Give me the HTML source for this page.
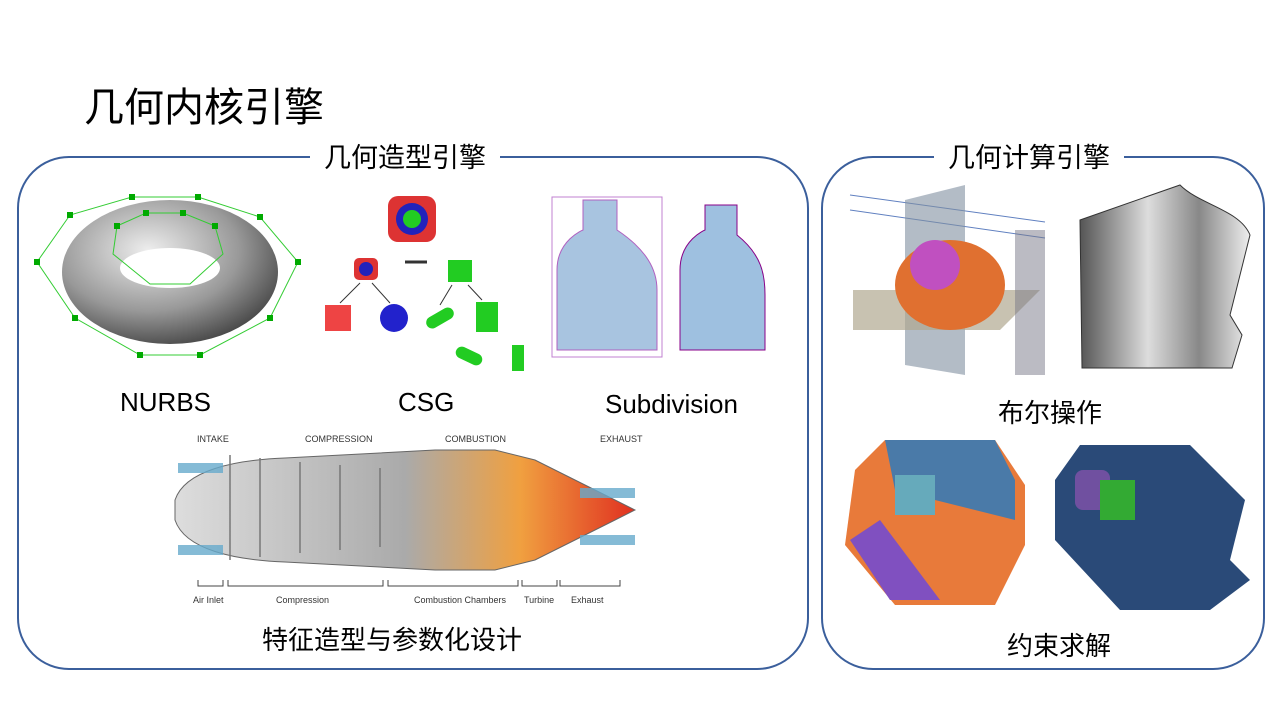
<!DOCTYPE html>
<html><head><meta charset="utf-8"><style>
body{margin:0;width:1280px;height:718px;background:#fff;position:relative;overflow:hidden;font-family:"Liberation Sans","Noto Sans CJK SC",sans-serif;}
.t{position:absolute;white-space:nowrap;color:#000;}
.box{position:absolute;border:2px solid #3b5f9c;border-radius:52px;}
.lab{position:absolute;background:#fff;padding:0 14px;font-size:27px;white-space:nowrap;line-height:34px;}
svg{position:absolute;left:0;top:0;}
</style></head><body>
<div class="t" style="left:84px;top:82px;font-size:40px;line-height:52px;">几何内核引擎</div>
<div class="box" style="left:17px;top:156px;width:788px;height:510px;"></div>
<div class="box" style="left:821px;top:156px;width:440px;height:510px;"></div>
<div class="lab" style="left:310px;top:141px;">几何造型引擎</div>
<div class="lab" style="left:934px;top:141px;">几何计算引擎</div>

<svg width="1280" height="718">
<defs>
<radialGradient id="tor" cx="0.4" cy="0.35" r="0.7"><stop offset="0" stop-color="#eee"/><stop offset="0.6" stop-color="#999"/><stop offset="1" stop-color="#444"/></radialGradient>
<linearGradient id="eng" x1="0" x2="1"><stop offset="0" stop-color="#ddd"/><stop offset="0.5" stop-color="#aaa"/><stop offset="0.75" stop-color="#f0a040"/><stop offset="1" stop-color="#e03020"/></linearGradient>
<linearGradient id="met" x1="0" x2="1"><stop offset="0" stop-color="#555"/><stop offset="0.4" stop-color="#ddd"/><stop offset="0.7" stop-color="#888"/><stop offset="1" stop-color="#eee"/></linearGradient>
</defs>
<!-- torus -->
<ellipse cx="170" cy="272" rx="108" ry="72" fill="url(#tor)"/>
<ellipse cx="170" cy="268" rx="50" ry="20" fill="#fff"/>
<g stroke="#3c3" fill="none" stroke-width="1">
<polygon points="132,197 198,197 260,217 298,262 270,318 200,355 140,355 75,318 37,262 70,215"/>
<polygon points="146,213 183,213 215,226 223,254 190,284 150,284 113,254 117,226"/>
</g>
<g fill="#0a0">
<rect x="129" y="194" width="6" height="6"/><rect x="195" y="194" width="6" height="6"/><rect x="257" y="214" width="6" height="6"/><rect x="295" y="259" width="6" height="6"/><rect x="267" y="315" width="6" height="6"/><rect x="197" y="352" width="6" height="6"/><rect x="137" y="352" width="6" height="6"/><rect x="72" y="315" width="6" height="6"/><rect x="34" y="259" width="6" height="6"/><rect x="67" y="212" width="6" height="6"/>
<rect x="143" y="210" width="6" height="6"/><rect x="180" y="210" width="6" height="6"/><rect x="212" y="223" width="6" height="6"/><rect x="114" y="223" width="6" height="6"/>
</g>
<!-- CSG -->
<rect x="388" y="196" width="48" height="46" rx="10" fill="#d33"/><circle cx="412" cy="219" r="16" fill="#22b"/><circle cx="412" cy="219" r="9" fill="#2c2"/>
<line x1="405" y1="262" x2="427" y2="262" stroke="#333" stroke-width="3"/>
<rect x="354" y="258" width="24" height="22" rx="5" fill="#d33"/><circle cx="366" cy="269" r="7" fill="#22b"/>
<path d="M448,260h24v22h-24z" fill="#2c2"/>
<line x1="360" y1="283" x2="340" y2="303" stroke="#333"/><line x1="372" y1="283" x2="390" y2="303" stroke="#333"/>
<rect x="325" y="305" width="26" height="26" fill="#e44"/><circle cx="394" cy="318" r="14" fill="#22c"/>
<line x1="452" y1="285" x2="440" y2="305" stroke="#333"/><line x1="468" y1="285" x2="482" y2="300" stroke="#333"/>
<rect x="425" y="312" width="30" height="12" rx="6" fill="#2c2" transform="rotate(-30 440 318)"/>
<rect x="476" y="302" width="22" height="30" fill="#2c2"/>
<rect x="455" y="350" width="28" height="12" rx="6" fill="#2c2" transform="rotate(25 469 356)"/><rect x="512" y="345" width="12" height="26" fill="#2c2"/>
<!-- bottles -->
<path d="M583,200h34v30c30,20 40,40 40,60v60h-100v-80c0,-30 26,-40 26,-40z" fill="#a8c4e0" stroke="#b060c0"/>
<rect x="552" y="197" width="110" height="160" fill="none" stroke="#c080d0"/>
<path d="M705,205h32v30c25,20 28,40 28,60v55h-85v-80c0,-30 25,-40 25,-40z" fill="#9ec0e0" stroke="#808"/>
<!-- jet engine -->
<path d="M175,500c10,-30 60,-40 110,-42l150,-8 60,0 40,10 40,20 40,20 20,10-20,10-40,20-40,20-40,10-60,0-150,-8c-50,-2-100,-12-110,-42z" fill="url(#eng)" stroke="#666"/>
<g fill="#6ac" opacity="0.8"><rect x="178" y="463" width="45" height="10"/><rect x="178" y="545" width="45" height="10"/><rect x="580" y="488" width="55" height="10"/><rect x="580" y="535" width="55" height="10"/></g>
<g stroke="#777" stroke-width="1.5"><line x1="230" y1="455" x2="230" y2="560"/><line x1="260" y1="458" x2="260" y2="557"/><line x1="300" y1="462" x2="300" y2="553"/><line x1="340" y1="465" x2="340" y2="550"/><line x1="380" y1="468" x2="380" y2="547"/></g>
<g stroke="#444" fill="none"><path d="M198,580v6h25v-6M228,580v6h155v-6M388,580v6h130v-6M522,580v6h35v-6M560,580v6h60v-6"/></g>
<g font-size="9" fill="#333" font-family="Liberation Sans,sans-serif">
<text x="197" y="442">INTAKE</text><text x="305" y="442">COMPRESSION</text><text x="445" y="442">COMBUSTION</text><text x="600" y="442">EXHAUST</text>
<text x="193" y="603">Air Inlet</text><text x="276" y="603">Compression</text><text x="414" y="603">Combustion Chambers</text><text x="524" y="603">Turbine</text><text x="571" y="603">Exhaust</text></g>
<!-- boolean -->
<g stroke="#6080c0" stroke-width="1"><line x1="850" y1="195" x2="1045" y2="222"/><line x1="850" y1="210" x2="1045" y2="238"/></g>
<polygon points="905,200 965,185 965,375 905,365" fill="#8090a0" opacity="0.6"/>
<polygon points="853,290 1040,290 1000,330 853,330" fill="#b0a890" opacity="0.7"/>
<ellipse cx="950" cy="285" rx="55" ry="45" fill="#e07030"/><ellipse cx="935" cy="265" rx="25" ry="25" fill="#c050c0"/>
<rect x="1015" y="230" width="30" height="145" fill="#778" opacity="0.5"/>
<path d="M1080,220l100,-35c20,20 60,25 70,50l-20,80 12,20-10,33h-150z" fill="url(#met)" stroke="#333"/>
<!-- engine blocks -->
<path d="M855,470l30,-30h110l30,45v60l-30,60h-100l-50,-60z" fill="#e87a3a"/><path d="M885,440h110l20,40v40l-120,-30z" fill="#4a7aa8"/><path d="M850,540l40,60h50l-60,-80z" fill="#8050c0"/>
<rect x="895" y="475" width="40" height="40" fill="#6ab"/>
<path d="M1055,480l25,-35h110l55,55-15,60 20,20-40,30h-90l-65,-70z" fill="#2a4a78"/><rect x="1075" y="470" width="35" height="40" rx="8" fill="#7050a0"/><rect x="1100" y="480" width="35" height="40" fill="#3a3"/>
</svg>

<div class="t" style="left:120px;top:387px;font-size:26px;">NURBS</div>
<div class="t" style="left:398px;top:387px;font-size:26px;">CSG</div>
<div class="t" style="left:605px;top:389px;font-size:26px;">Subdivision</div>
<div class="t" style="left:998px;top:393px;font-size:26px;">布尔操作</div>
<div class="t" style="left:1007px;top:626px;font-size:26px;">约束求解</div>
<div class="t" style="left:262px;top:620px;font-size:26px;">特征造型与参数化设计</div>
</body></html>
